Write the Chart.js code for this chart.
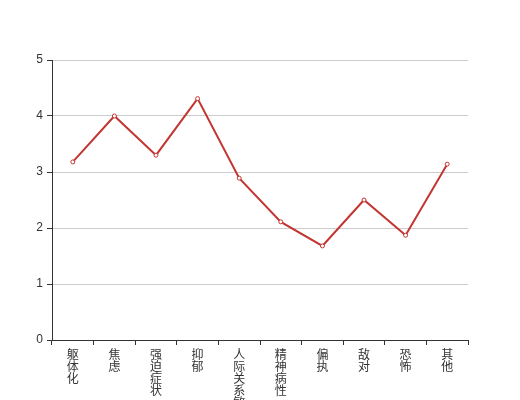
<!DOCTYPE html>
<html>
<head>
<meta charset="utf-8">
<style>
  html, body { margin: 0; padding: 0; background: #fff; }
  #wrap { width: 520px; height: 400px; }
</style>
<script src="https://cdn.jsdelivr.net/npm/chart.js@4/dist/chart.umd.min.js"></script>
</head>
<body>
<div id="wrap"><canvas id="grafico"></canvas></div>
<script>
// categorias e valores
const categorias = ['躯体化', '焦虑', '强迫症状', '抑郁', '人际关系敏感', '精神病性', '偏执', '敌对', '恐怖', '其他'];
const valores = [3.18, 4.0, 3.30, 4.31, 2.89, 2.11, 1.68, 2.50, 1.87, 3.14];
const ticksY = [0, 1, 2, 3, 4, 5];

const corLinha = '#c23531';
const corEixo = '#333';

// rótulo vertical: um caractere por linha
const rotulos = categorias.map(c => c.split(''));

new Chart(document.getElementById('grafico'), {
  type: 'line',
  data: {
    labels: rotulos,
    datasets: [{
      data: valores,
      borderColor: corLinha,
      borderWidth: 2,
      pointRadius: 2,
      pointBorderWidth: 1,
      pointBackgroundColor: '#fff',
      pointBorderColor: corLinha,
      tension: 0,
      fill: false
    }]
  },
  options: {
    responsive: true,
    maintainAspectRatio: false,
    animation: false,
    layout: { padding: { left: 0, right: 52, top: 60, bottom: 0 } },
    plugins: {
      legend: { display: false },
      tooltip: { enabled: false }
    },
    scales: {
      x: {
        offset: true,
        afterFit: s => { s.height = 60; },
        grid: {
          offset: true,
          drawOnChartArea: false,
          tickLength: 5,
          tickColor: corEixo
        },
        border: { color: corEixo, width: 1 },
        ticks: {
          autoSkip: false,
          maxRotation: 0,
          minRotation: 0,
          padding: 3,
          color: corEixo,
          font: { family: '"Noto Sans CJK SC", sans-serif', size: 12, lineHeight: 1 }
        }
      },
      y: {
        min: 0,
        max: 5,
        afterFit: s => { s.width = 52; },
        afterBuildTicks: s => { s.ticks = ticksY.map(v => ({ value: v })); },
        grid: {
          color: '#ccc',
          tickColor: corEixo,
          tickLength: 5
        },
        border: { color: corEixo, width: 1 },
        ticks: {
          padding: 4,
          color: corEixo,
          font: { family: 'sans-serif', size: 12 }
        }
      }
    }
  }
});
</script>
</body>
</html>
